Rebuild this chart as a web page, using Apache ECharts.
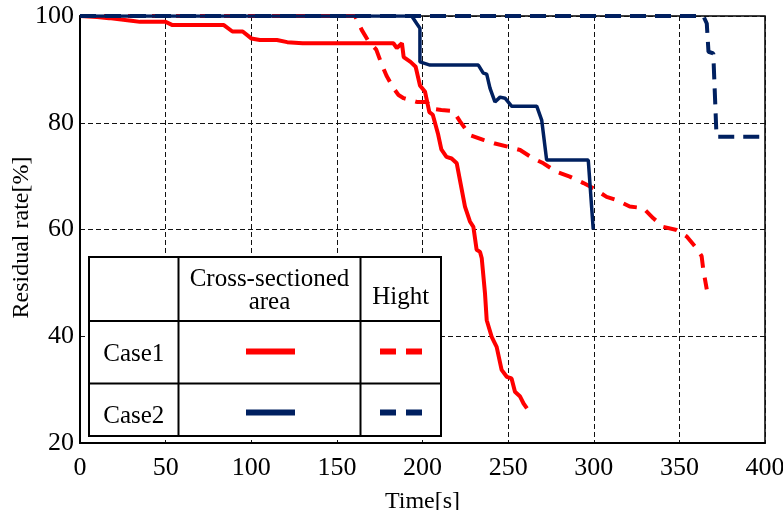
<!DOCTYPE html>
<html>
<head>
<meta charset="utf-8">
<script src="https://cdn.jsdelivr.net/npm/echarts@6/dist/echarts.min.js"></script>
<style>html,body{margin:0;padding:0;background:#fff;}#c{width:783px;height:510px;}</style>
</head>
<body>
<div id="c"></div>
<script>
// ---- data (time [s], residual rate [%]) ----
const xTicks = [0, 50, 100, 150, 200, 250, 300, 350, 400];
const yTicks = [20, 40, 60, 80, 100];

const case1AreaT = [0, 10, 17, 30, 35, 50, 54, 84, 89, 95, 100, 105, 115, 121, 130, 183, 185, 188, 189, 193, 196, 198.5, 201.5, 204, 206, 209, 211, 214, 217, 220, 222, 224.8, 227.7, 229.7, 231.6, 233.6, 234.6, 236.5, 237.5, 240.4, 243.3, 246.2, 249.2, 252, 254, 257, 259, 261];
const case1AreaV = [100, 99.8, 99.6, 99.1, 98.9, 98.9, 98.3, 98.3, 97.1, 97.1, 95.8, 95.5, 95.5, 95.1, 94.9, 94.9, 94.0, 94.9, 92.3, 91.4, 90.5, 87, 85.8, 82, 81.5, 78, 75, 73.6, 73.3, 72.4, 69, 64.3, 61.5, 60.5, 56.2, 55.8, 54.6, 48, 43, 39.9, 38, 33.7, 32.4, 32.1, 29.6, 28.7, 27.4, 26.5];

const case1HightT = [0, 160.6, 164.5, 168, 173, 176, 179, 183, 186, 189, 196.6, 202.4, 206, 211, 218, 222, 227.7, 235.5, 242.3, 250, 257, 264.7, 270.6, 278.3, 286, 294, 300, 307.5, 313.4, 321, 329, 334.8, 340.6, 348.4, 354.3, 360, 363, 364, 366];
const case1HightV = [100, 100, 97.4, 95.5, 93.7, 91.1, 88.8, 86.5, 85.2, 84.6, 83.9, 83.9, 82.6, 82.4, 82.2, 80.2, 77.7, 76.8, 76.1, 75.5, 74.9, 73.3, 72.4, 70.8, 69.9, 68.7, 67.7, 66.1, 65.5, 64.3, 64, 62.1, 60.5, 59.9, 58.7, 56.5, 55, 52.4, 48.8];

const case2AreaT = [0, 193.7, 196.6, 198.5, 198.5, 204.4, 232.6, 235.5, 237.5, 239.4, 242.3, 245.3, 248.2, 252, 266.7, 269.6, 272.5, 296.8, 299.7];
const case2AreaV = [100, 100, 98.6, 97.7, 91.4, 90.8, 90.8, 89.3, 89.1, 86.5, 83.9, 84.8, 84.6, 83.1, 83.1, 80.5, 73, 73, 60];

const case2HightT = [0, 364, 366, 367, 369.8, 371.7, 400];
const case2HightV = [100, 100, 98.6, 93.3, 93, 77.4, 77.4];

const rowLabels = ['Case1', 'Case2'];
const colLabels = ['Cross-sectioned\narea', 'Hight'];

// ---- build ----
const zip = (t, v) => t.map((x, i) => [x, v[i]]);
const RED = '#ff0000', NAVY = '#002060';
const FONT = '"Liberation Serif", "Times New Roman", serif';

const chart = echarts.init(document.getElementById('c'), null, {renderer: 'canvas'});

const gridL = 80, gridT = 16, gridR = 18, gridB = 67;

// legend table geometry (decoration, not data)
const tb = {x: 89, y: 257, w: 352, h: 179, c1: 178.5, c2: 360.5, r1: 321, r2: 383.5};
const g = [];
g.push({type: 'rect', shape: {x: tb.x, y: tb.y, width: tb.w, height: tb.h}, style: {fill: '#fff', stroke: '#000', lineWidth: 2}, z: 100});
[tb.c1, tb.c2].forEach(cx => g.push({type: 'line', shape: {x1: cx, y1: tb.y, x2: cx, y2: tb.y + tb.h}, style: {stroke: '#000', lineWidth: 2}, z: 101}));
[tb.r1, tb.r2].forEach(ry => g.push({type: 'line', shape: {x1: tb.x, y1: ry, x2: tb.x + tb.w, y2: ry}, style: {stroke: '#000', lineWidth: 2}, z: 101}));
g.push({type: 'text', x: (tb.c1 + tb.c2) / 2, y: 291, style: {text: colLabels[0], font: '25px ' + FONT, fill: '#000', align: 'center', verticalAlign: 'middle', lineHeight: 23}, z: 102});
g.push({type: 'text', x: (tb.c2 + tb.x + tb.w) / 2, y: 297, style: {text: colLabels[1], font: '25px ' + FONT, fill: '#000', align: 'center', verticalAlign: 'middle'}, z: 102});
const rowY = [354, 416];
const sampleY = [351.5, 412.5];
rowLabels.forEach((lab, i) => {
  g.push({type: 'text', x: (tb.x + tb.c1) / 2, y: rowY[i], style: {text: lab, font: '25px ' + FONT, fill: '#000', align: 'center', verticalAlign: 'middle'}, z: 102});
  const col = i === 0 ? RED : NAVY;
  g.push({type: 'line', shape: {x1: 246, y1: sampleY[i], x2: 295, y2: sampleY[i]}, style: {stroke: col, lineWidth: 6}, z: 102});
  g.push({type: 'line', shape: {x1: 380, y1: sampleY[i], x2: 423, y2: sampleY[i]}, style: {stroke: col, lineWidth: 6, lineDash: [16, 10]}, z: 102});
});

const option = {
  animation: false,
  backgroundColor: '#fff',
  grid: {left: gridL, top: gridT, right: gridR, bottom: gridB, containLabel: false, outerBoundsMode: 'none', show: true, borderColor: '#000', borderWidth: 1.5, backgroundColor: 'transparent'},
  xAxis: {
    type: 'value', min: 0, max: 400, interval: 50,
    name: 'Time[s]', nameLocation: 'middle', nameGap: 47, nameMoveOverlap: false,
    nameTextStyle: {fontFamily: FONT, fontSize: 24, color: '#000'},
    axisLine: {show: true, onZero: false, lineStyle: {color: '#000', width: 2}},
    axisTick: {show: false},
    axisLabel: {fontFamily: FONT, fontSize: 26, color: '#000', margin: 12, formatter: v => xTicks.includes(v) ? String(v) : ''},
    splitLine: {show: true, lineStyle: {color: '#111', width: 1, type: [5, 3]}}
  },
  yAxis: {
    type: 'value', min: 20, max: 100, interval: 20,
    name: 'Residual rate[%]', nameLocation: 'middle', nameGap: 46, nameMoveOverlap: false,
    nameTextStyle: {fontFamily: FONT, fontSize: 24, color: '#000', padding: [0, 16, 0, 0]},
    axisLine: {show: true, onZero: false, lineStyle: {color: '#000', width: 2}},
    axisTick: {show: false},
    axisLabel: {fontFamily: FONT, fontSize: 26, color: '#000', margin: 6, formatter: v => yTicks.includes(v) ? String(v) : ''},
    splitLine: {show: true, lineStyle: {color: '#111', width: 1, type: [5, 3]}}
  },
  series: [
    {name: 'Case1 Cross-sectioned area', type: 'line', data: zip(case1AreaT, case1AreaV), showSymbol: false, lineStyle: {color: RED, width: 4}, z: 3},
    {name: 'Case1 Hight', type: 'line', data: zip(case1HightT, case1HightV), showSymbol: false, lineStyle: {color: RED, width: 4, type: [14, 10]}, z: 3},
    {name: 'Case2 Cross-sectioned area', type: 'line', data: zip(case2AreaT, case2AreaV), showSymbol: false, lineStyle: {color: NAVY, width: 3.5}, z: 4},
    {name: 'Case2 Hight', type: 'line', data: zip(case2HightT, case2HightV), showSymbol: false, lineStyle: {color: NAVY, width: 4, type: [16, 9]}, z: 5}
  ],
  graphic: g
};
chart.setOption(option);
</script>
</body>
</html>
